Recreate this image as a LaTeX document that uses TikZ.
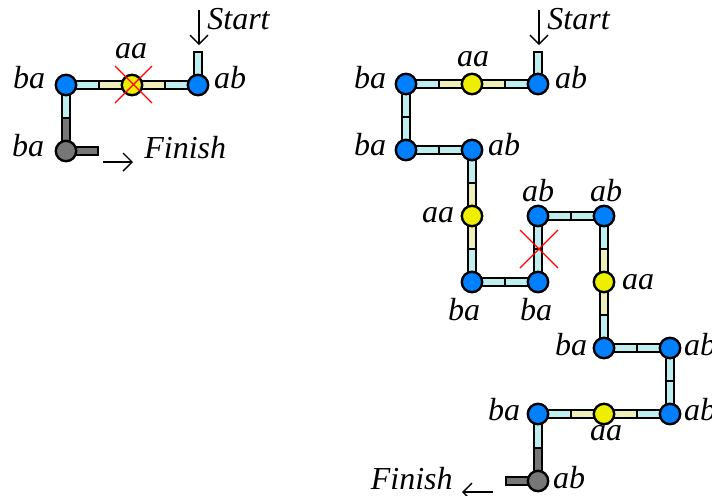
\documentclass[tikz,border=0pt]{standalone}
\usepackage{fontspec}
\setmainfont{Liberation Serif}
\usetikzlibrary{backgrounds,calc,arrows.meta}
\definecolor{nblue}{RGB}{0,128,255}
\definecolor{nyellow}{RGB}{238,238,0}
\definecolor{ngray}{RGB}{119,119,119}
\definecolor{ecyan}{RGB}{190,238,238}
\definecolor{ebeige}{RGB}{238,238,187}
\definecolor{egray}{RGB}{119,119,119}
\newcommand\bedge[4]{%
  \draw[line width=5.4pt] (#1.center) -- (#2.center);
  \draw[line width=3.2pt, #3, shorten >=0.5pt] (#1.center) -- ($(#1.center)!0.5!(#2.center)$);
  \draw[line width=3.2pt, #4, shorten >=0.5pt] (#2.center) -- ($(#1.center)!0.5!(#2.center)$);
}
\newcommand\bstub[3]{%
  \draw[line width=5.4pt, shorten >=-0.6pt] (#1.center) -- (#2);
  \draw[line width=3.2pt, #3, shorten >=0.5pt] (#1.center) -- (#2);
}
\begin{document}
\begin{tikzpicture}[x=0.5pt,y=-0.5pt,
  vtx/.style={circle, draw, line width=1.2pt, minimum size=10.2pt, inner sep=0pt},
  bnode/.style={vtx, fill=nblue},
  ynode/.style={vtx, fill=nyellow},
  gnode/.style={vtx, fill=ngray},
  lab/.style={anchor=base, inner sep=0pt, font=\fontsize{16}{19}\selectfont\itshape},
  cross/.style={red, line width=0.65pt},
  ptr/.style={line width=0.7pt, -{Straight Barb[length=4.5pt,width=9pt,line width=0.7pt]}}]
\useasboundingbox (0,0) rectangle (712,495);

% ---------- left diagram ----------
\node[bnode] (L1) at (198,85) {};
\node[ynode] (L2) at (132,85) {};
\node[bnode] (L3) at (66,85) {};
\node[gnode] (L4) at (66,151) {};
\coordinate (Ls) at (198,52);
\coordinate (Lf) at (98,151);

\begin{scope}[on background layer]
  \bstub{L1}{Ls}{ecyan}
  \bedge{L1}{L2}{ecyan}{ebeige}
  \bedge{L2}{L3}{ebeige}{ecyan}
  \bedge{L3}{L4}{ecyan}{egray}
  \bstub{L4}{Lf}{egray}
\end{scope}

\coordinate (Lx1) at (115,66);
\coordinate (Lx2) at (152,103);
\coordinate (Lx3) at (115,103);
\coordinate (Lx4) at (152,66);
\draw[cross] (Lx1) -- (Lx2);
\draw[cross] (Lx3) -- (Lx4);

\node[lab] (lL1) at (230,88) {ab};
\node[lab] (lL2) at (131,58) {aa};
\node[lab] (lL3) at (29,88) {ba};
\node[lab] (lL4) at (28,156) {ba};
\node[lab, anchor=base west] (lLs) at (207,29) {Start};
\node[lab, anchor=base west] (lLf) at (144,158) {Finish};
\coordinate (Las) at (199,10);
\coordinate (Lae) at (199,45);
\draw[ptr] (Las) -- (Lae);
\coordinate (Lbs) at (103,162);
\coordinate (Lbe) at (133,162);
\draw[ptr] (Lbs) -- (Lbe);

% ---------- right diagram ----------
\node[bnode] (R1) at (538,84) {};
\node[ynode] (R2) at (472,84) {};
\node[bnode] (R3) at (406,84) {};
\node[bnode] (R4) at (406,150) {};
\node[bnode] (R5) at (472,150) {};
\node[ynode] (R6) at (472,216) {};
\node[bnode] (R7) at (472,282) {};
\node[bnode] (R8) at (538,282) {};
\node[bnode] (R9) at (538,216) {};
\node[bnode] (R10) at (604,216) {};
\node[ynode] (R11) at (604,282) {};
\node[bnode] (R12) at (604,348) {};
\node[bnode] (R13) at (670,348) {};
\node[bnode] (R14) at (670,414) {};
\node[ynode] (R15) at (604,414) {};
\node[bnode] (R16) at (538,414) {};
\node[gnode] (R17) at (538,481) {};
\coordinate (Rs) at (538,52);
\coordinate (Rf) at (506,481);

\begin{scope}[on background layer]
  \bstub{R1}{Rs}{ecyan}
  \bedge{R1}{R2}{ecyan}{ebeige}
  \bedge{R2}{R3}{ebeige}{ecyan}
  \bedge{R3}{R4}{ecyan}{ecyan}
  \bedge{R4}{R5}{ecyan}{ecyan}
  \bedge{R5}{R6}{ecyan}{ebeige}
  \bedge{R6}{R7}{ebeige}{ecyan}
  \bedge{R7}{R8}{ecyan}{ecyan}
  \bedge{R8}{R9}{ecyan}{ecyan}
  \bedge{R9}{R10}{ecyan}{ecyan}
  \bedge{R10}{R11}{ecyan}{ebeige}
  \bedge{R11}{R12}{ebeige}{ecyan}
  \bedge{R12}{R13}{ecyan}{ecyan}
  \bedge{R13}{R14}{ecyan}{ecyan}
  \bedge{R14}{R15}{ecyan}{ebeige}
  \bedge{R15}{R16}{ebeige}{ecyan}
  \bedge{R16}{R17}{ecyan}{egray}
  \bstub{R17}{Rf}{egray}
\end{scope}

\coordinate (Rx1) at (520,230);
\coordinate (Rx2) at (558,268);
\coordinate (Rx3) at (520,268);
\coordinate (Rx4) at (558,230);
\draw[cross] (Rx1) -- (Rx2);
\draw[cross] (Rx3) -- (Rx4);

\node[lab] (lR1) at (571,88) {ab};
\node[lab] (lR2) at (473,66) {aa};
\node[lab] (lR3) at (370,88) {ba};
\node[lab] (lR4) at (370,155) {ba};
\node[lab] (lR5) at (504,155) {ab};
\node[lab] (lR6) at (438,222) {aa};
\node[lab] (lR7) at (464,320) {ba};
\node[lab] (lR8) at (536,320) {ba};
\node[lab] (lR9) at (538,201) {ab};
\node[lab] (lR10) at (606,201) {ab};
\node[lab] (lR11) at (638,289) {aa};
\node[lab] (lR12) at (571,355) {ba};
\node[lab] (lR13) at (700,355) {ab};
\node[lab] (lR14) at (700,420) {ab};
\node[lab] (lR15) at (606,440) {aa};
\node[lab] (lR16) at (504,420) {ba};
\node[lab] (lR17) at (569,488) {ab};
\node[lab, anchor=base west] (lRs) at (547,29) {Start};
\node[lab, anchor=base east] (lRf) at (453,489) {Finish};
\coordinate (Ras) at (539,10);
\coordinate (Rae) at (539,45);
\draw[ptr] (Ras) -- (Rae);
\coordinate (Rbs) at (493,492);
\coordinate (Rbe) at (462,492);
\draw[ptr] (Rbs) -- (Rbe);
\end{tikzpicture}
\end{document}
